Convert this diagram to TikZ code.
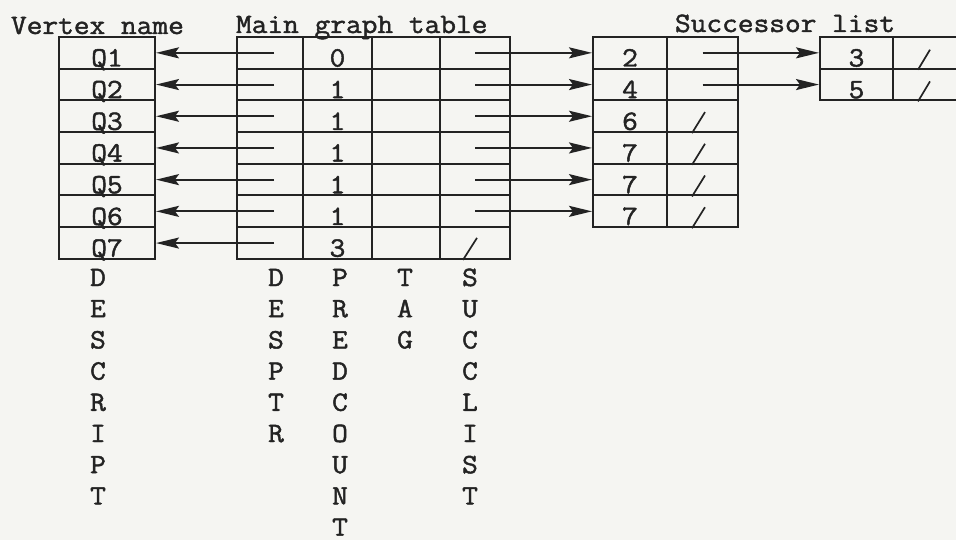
\documentclass[tikz,border=0pt]{standalone}
\usepackage{fontspec}
\newfontfamily\tw[FakeStretch=1.09,FakeBold=1.6]{Latin Modern Mono}
\usetikzlibrary{arrows.meta}
\definecolor{paper}{RGB}{245,245,242}
\definecolor{ink}{RGB}{35,35,35}
\begin{document}
\begin{tikzpicture}[x=1pt,y=-1pt,line width=2pt,
  cell/.style={draw=ink,rectangle,inner sep=0pt,minimum height=31.7pt},
  txt/.style={font={\tw\fontsize{28}{31.4}\selectfont},text=ink,inner sep=0pt},
  arr/.style={draw=ink,-{Stealth[length=23pt,width=11pt,inset=4pt]},line width=2pt},
  nul/.style={draw=ink,line width=1.7pt}]
\clip (0,0) rectangle (956,540);
\fill[paper] (0,0) rectangle (956,540);
% vertex name column
\foreach \i in {1,...,7} {
  \node[cell,minimum width=96pt] (v\i) at (107,21.15+31.7*\i) {};
  \node[txt,anchor=base] (vq\i) at ([yshift=3.2pt]v\i.south) {Q\i};
}
% main graph table
\foreach \val [count=\i] in {0,1,1,1,1,1,3} {
  \node[cell,minimum width=66pt] (ma\i) at (270,21.15+31.7*\i) {};
  \node[cell,minimum width=69pt] (mb\i) at (337.5,21.15+31.7*\i) {};
  \node[cell,minimum width=68pt] (mc\i) at (406,21.15+31.7*\i) {};
  \node[cell,minimum width=70pt] (md\i) at (475,21.15+31.7*\i) {};
  \node[txt,anchor=base] (mv\i) at ([yshift=3.2pt]mb\i.south) {\val};
}
% successor list, first level
\foreach \val [count=\i] in {2,4,6,7,7,7} {
  \node[cell,minimum width=74pt] (sa\i) at (630,21.15+31.7*\i) {};
  \node[cell,minimum width=71pt] (sb\i) at (702.5,21.15+31.7*\i) {};
  \node[txt,anchor=base] (sv\i) at ([yshift=3.2pt]sa\i.south) {\val};
}
% successor list, second level
\foreach \val [count=\i] in {3,5} {
  \node[cell,minimum width=73pt] (ta\i) at (856.5,21.15+31.7*\i) {};
  \node[cell,minimum width=80pt] (tb\i) at (933,21.15+31.7*\i) {};
  \node[txt,anchor=base] (tv\i) at ([yshift=3.2pt]ta\i.south) {\val};
}
% connectors
\foreach \i in {1,...,7} {
  \draw[arr] ([xshift=4pt]ma\i.center) -- (v\i.east);
}
\foreach \i in {1,...,6} {
  \draw[arr] (md\i.center) -- (sa\i.west);
}
\foreach \i in {1,2} {
  \draw[arr] (sb\i.center) -- (ta\i.west);
  \draw[nul] ([xshift=-15pt]tb\i.south) -- ([xshift=-3pt,yshift=20pt]tb\i.south);
}
% null pointers
\foreach \i in {3,...,6} {
  \draw[nul] ([xshift=-10.5pt]sb\i.south) -- ([xshift=2.5pt,yshift=21pt]sb\i.south);
}
\draw[nul] ([xshift=-12pt]md7.south) -- ([xshift=2pt,yshift=22pt]md7.south);
% headers
\node[txt,anchor=base west] (h1) at (10,34) {Vertex name};
\node[txt,anchor=base west] (h2) at (235,33) {Main graph table};
\node[txt,anchor=base west] (h3) at (674,32) {Successor list};
% vertical field names
\foreach \ch [count=\k] in {D,E,S,C,R,I,P,T}
  \node[txt,anchor=base] (la\k) at (98,286+31.2*\k-31.2) {\ch};
\foreach \ch [count=\k] in {D,E,S,P,T,R}
  \node[txt,anchor=base] (lb\k) at (276,286+31.2*\k-31.2) {\ch};
\foreach \ch [count=\k] in {P,R,E,D,C,O,U,N,T}
  \node[txt,anchor=base] (lc\k) at (340,286+31.2*\k-31.2) {\ch};
\foreach \ch [count=\k] in {T,A,G}
  \node[txt,anchor=base] (ld\k) at (405,286+31.2*\k-31.2) {\ch};
\foreach \ch [count=\k] in {S,U,C,C,L,I,S,T}
  \node[txt,anchor=base] (le\k) at (470,286+31.2*\k-31.2) {\ch};
\end{tikzpicture}
\end{document}
